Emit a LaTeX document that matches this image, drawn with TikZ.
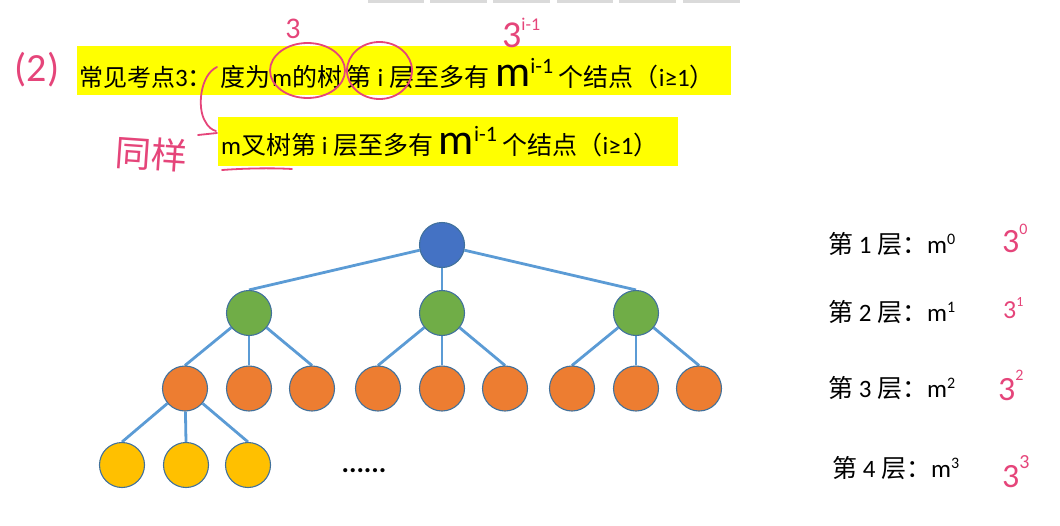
\documentclass[tikz,border=0pt]{standalone}
\usepackage{fontspec}
\setmainfont{Carlito}
\newfontfamily\cjk{Noto Sans CJK SC}
\usetikzlibrary{backgrounds}
\definecolor{hlyellow}{HTML}{FFFF00}
\definecolor{pen}{HTML}{E5457A}
\definecolor{rootc}{HTML}{4472C4}
\definecolor{greenc}{HTML}{70AD47}
\definecolor{orangec}{HTML}{ED7D31}
\definecolor{yellowc}{HTML}{FFC000}
\definecolor{edgec}{HTML}{5B9BD5}
\definecolor{borderc}{HTML}{41719C}
\definecolor{barc}{HTML}{DADADA}
\newcommand\zh[1]{{\cjk #1}}
\newcommand\mbig[1]{{\fontsize{44}{44}\selectfont m}\raisebox{13pt}{\fontsize{22}{22}\selectfont #1}}
\newcommand\supx[1]{\raisebox{8.5pt}{\fontsize{16}{16}\selectfont #1}}
\begin{document}
\begin{tikzpicture}[x=1pt,y=-1pt,
  tn/.style={circle, draw=borderc, line width=1.1pt, minimum size=45pt, inner sep=0pt},
  ed/.style={draw=edgec, line width=2.8pt},
  hl/.style={fill=hlyellow, inner sep=0pt, anchor=north west},
  txt/.style={anchor=base west, inner sep=0pt, font=\fontsize{25}{30}\selectfont},
  lvl/.style={anchor=base west, inner sep=0pt, font=\fontsize{25}{28}\selectfont},
  hand/.style={draw=pen, line width=1.8pt, line cap=round, line join=round},
  handtxt/.style={text=pen, inner sep=0pt}]
\useasboundingbox (0,0) rectangle (1060,525);
% top bars
\foreach \a/\b in {368/424,430/487,493/550,557/613,619/676,683/740}
  \fill[barc] (\a,0) rectangle (\b,2.5);
% highlighted statements
\node[hl, minimum width=654pt, minimum height=49pt] (hl1) at (77,46) {};
\node[hl, minimum width=460pt, minimum height=49pt] (hl2) at (218,117) {};
\node[txt] (t1a) at (79,86) {{\fontsize{24}{30}\selectfont\zh{常见考点}}3\zh{：}};
\node[txt] (t1b) at (220,86) {\zh{度为}\hspace{2pt}m\zh{的树}\hspace{4pt}\zh{第}\hspace{6.5pt}i\hspace{6.5pt}\zh{层至多有}};
\node[txt] (t1c) at (495,86) {\mbig{i-1} \zh{个结点（}i≥1\zh{）}};
\node[txt] (t2) at (221,154) {m\zh{叉树第} i \zh{层至多有} \mbig{i-1} \zh{个结点（}i≥1\zh{）}};
% tree
\node[tn, fill=rootc] (r) at (442,245) {};
\node[tn, fill=greenc] (g1) at (249,313) {};
\node[tn, fill=greenc] (g2) at (442,313) {};
\node[tn, fill=greenc] (g3) at (636,313) {};
\foreach \n/\x in {o11/185,o12/249,o13/312,o21/378,o22/442,o23/505,o31/572,o32/636,o33/699}
  \node[tn, fill=orangec] (\n) at (\x,388.5) {};
\foreach \n/\x in {y1/122,y2/186,y3/248}
  \node[tn, fill=yellowc] (\n) at (\x,465) {};
\begin{scope}[on background layer]
\foreach \c in {g1,g2,g3} \draw[ed] (r) -- (\c.north);
\foreach \c in {o11,o12,o13} \draw[ed] (g1) -- (\c.north);
\foreach \c in {o21,o22,o23} \draw[ed] (g2) -- (\c.north);
\foreach \c in {o31,o32,o33} \draw[ed] (g3) -- (\c.north);
\foreach \c in {y1,y2,y3} \draw[ed] (o11) -- (\c.north);
\end{scope}
\node[inner sep=0pt, font=\fontsize{28}{28}\selectfont\bfseries] (dots) at (364,471) {......};
% level labels
\node[lvl] (l1) at (828,253) {\zh{第} 1 \zh{层：}m\supx{0}};
\node[lvl] (l2) at (828,321) {\zh{第} 2 \zh{层：}m\supx{1}};
\node[lvl] (l3) at (828,397) {\zh{第} 3 \zh{层：}m\supx{2}};
\node[lvl] (l4) at (832,477) {\zh{第} 4 \zh{层：}m\supx{3}};
% handwritten annotations
\node[handtxt, font=\fontsize{40}{40}\selectfont] (p2) at (37,70) {(2)};
\node[handtxt, font=\fontsize{30}{30}\selectfont] (h3) at (293,29) {3};
\node[handtxt, anchor=base west, font=\fontsize{38}{38}\selectfont] (h3i) at (502,47) {3\raisebox{17pt}{\fontsize{18}{18}\selectfont i-1}};
\draw[hand] (307.5,70.5) ellipse [x radius=37.5, y radius=27.5];
\draw[hand] (379.5,70.5) ellipse [x radius=32.5, y radius=28.5];
\draw[hand] (217,67) .. controls (200,75) and (197,108) .. (205,121) .. controls (208,127) and (212,130) .. (216,131);
\draw[hand] (198,135) -- (217,133);
\draw[hand] (222,170) .. controls (250,168) and (275,168) .. (292,169);
\node[handtxt, font=\fontsize{36}{36}\selectfont\cjk, rotate=-4] (same) at (151,154) {同样};
\node[handtxt, anchor=base west, font=\fontsize{34}{34}\selectfont] (e0) at (1002,252) {3\raisebox{18pt}{\fontsize{16}{16}\selectfont 0}};
\node[handtxt, anchor=base west, font=\fontsize{26}{26}\selectfont] (e1) at (1003,318) {3\raisebox{12pt}{\fontsize{14}{14}\selectfont 1}};
\node[handtxt, anchor=base west, font=\fontsize{34}{34}\selectfont] (e2) at (998,400) {3\raisebox{20pt}{\fontsize{16}{16}\selectfont 2}};
\node[handtxt, anchor=base west, font=\fontsize{34}{34}\selectfont] (e3) at (1002,487) {3\raisebox{19pt}{\fontsize{20}{20}\selectfont 3}};
\end{tikzpicture}
\end{document}
